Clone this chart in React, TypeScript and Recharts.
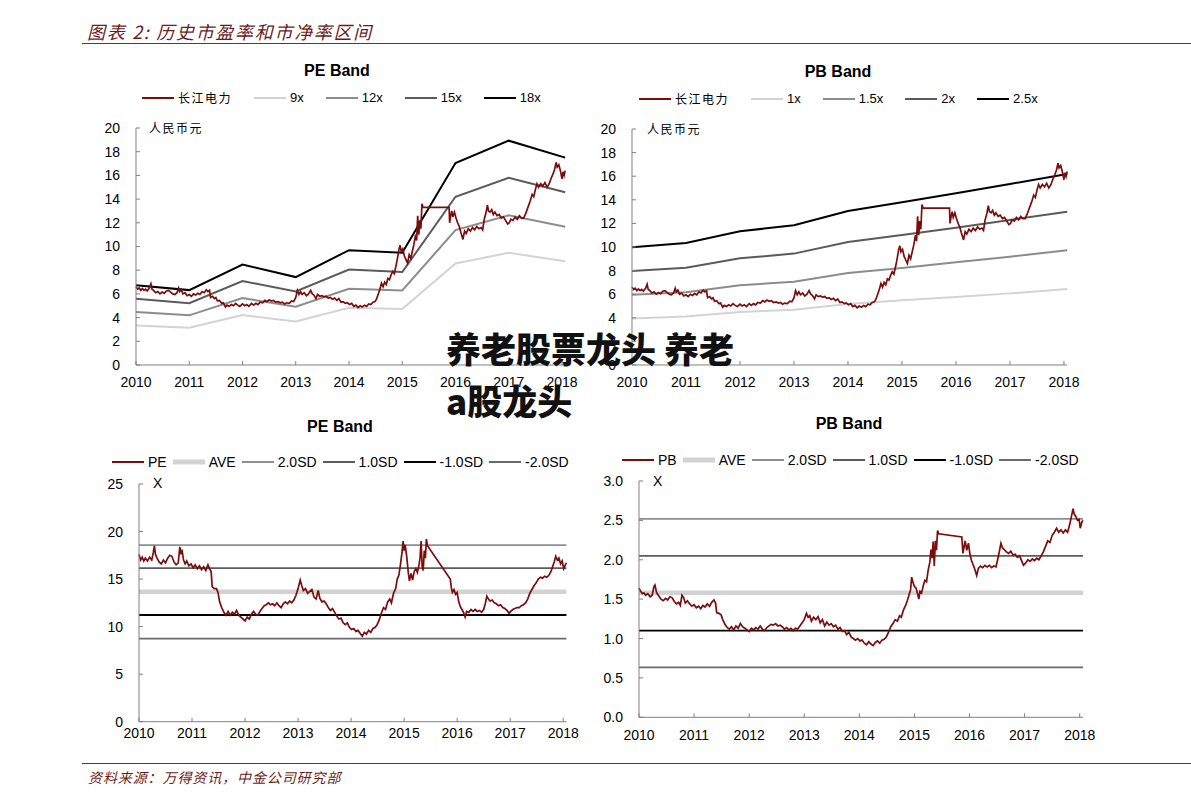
import React from "react";
import { LineChart, Line, XAxis, YAxis } from "recharts";

type Pt = [number, number];
type Row = { t: number; v: number };

const YEARS = [2010, 2011, 2012, 2013, 2014, 2015, 2016, 2017, 2018];
const X_END = 2018.06;
const BAND_T = [2010, 2011, 2012, 2013, 2014, 2015, 2016, 2017, X_END];

// PE band lines (price at 9x / 12x / 15x / 18x earnings), read at each year
const PE_9X = [3.34, 3.15, 4.21, 3.68, 4.83, 4.72, 8.57, 9.47, 8.76];
const PE_12X = [4.47, 4.19, 5.65, 4.92, 6.43, 6.29, 11.38, 12.64, 11.66];
const PE_15X = [5.59, 5.22, 7.08, 6.21, 8.06, 7.84, 14.2, 15.79, 14.58];
const PE_18X = [6.74, 6.32, 8.48, 7.42, 9.69, 9.47, 17.05, 18.93, 17.5];

// PB band lines
const PB_1X = [3.95, 4.1, 4.49, 4.69, 5.17, 5.48, 5.76, 6.07, 6.44];
const PB_15X = [5.96, 6.16, 6.75, 7.06, 7.8, 8.22, 8.7, 9.18, 9.72];
const PB_2X = [7.97, 8.25, 9.04, 9.44, 10.42, 11.02, 11.64, 12.29, 12.99];
const PB_25X = [9.97, 10.34, 11.33, 11.84, 13.05, 13.79, 14.55, 15.34, 16.19];

// horizontal levels in the ratio charts
const LEVEL_NAMES = ["AVE", "2.0SD", "1.0SD", "-1.0SD", "-2.0SD"];
const PE_LEVELS = [13.67, 18.57, 16.15, 11.22, 8.74];
const PB_LEVELS = [1.58, 2.52, 2.05, 1.1, 0.635];

// 长江电力 share price (人民币元)
const PRICE: Pt[] = [
  [2010.0, 6.6], [2010.03, 6.4], [2010.06, 6.5], [2010.09, 6.3], [2010.12, 6.45], [2010.15, 6.3],
  [2010.18, 6.4], [2010.21, 6.25], [2010.25, 6.5], [2010.28, 6.85], [2010.3, 6.4], [2010.33, 6.3],
  [2010.37, 6.1], [2010.41, 6.2], [2010.45, 6.0], [2010.49, 6.15], [2010.53, 6.05], [2010.57, 6.25],
  [2010.61, 6.3], [2010.65, 6.15], [2010.69, 6.0], [2010.73, 5.95], [2010.77, 6.1], [2010.8, 6.5],
  [2010.82, 6.2], [2010.85, 6.35], [2010.88, 6.0], [2010.92, 6.1], [2010.96, 5.85], [2011.0, 5.95],
  [2011.04, 5.8], [2011.08, 6.0], [2011.12, 5.9], [2011.16, 6.05], [2011.2, 5.95], [2011.24, 6.2],
  [2011.28, 6.1], [2011.32, 6.35], [2011.35, 6.2], [2011.38, 6.3], [2011.4, 5.7], [2011.44, 5.8],
  [2011.47, 5.6], [2011.5, 5.7], [2011.53, 5.4], [2011.57, 5.45], [2011.61, 5.2], [2011.64, 5.25],
  [2011.68, 4.9], [2011.71, 5.05], [2011.75, 4.95], [2011.79, 5.1], [2011.83, 5.0], [2011.87, 5.2],
  [2011.91, 5.05], [2011.95, 4.95], [2012.0, 5.15], [2012.04, 5.0], [2012.08, 5.1], [2012.12, 4.95],
  [2012.17, 5.2], [2012.21, 5.05], [2012.25, 5.2], [2012.29, 5.1], [2012.33, 5.3], [2012.38, 5.25],
  [2012.42, 5.45], [2012.46, 5.35], [2012.5, 5.5], [2012.54, 5.4], [2012.58, 5.45], [2012.62, 5.3],
  [2012.67, 5.35], [2012.71, 5.25], [2012.75, 5.3], [2012.79, 5.15], [2012.83, 5.25], [2012.88, 5.2],
  [2012.92, 5.4], [2012.96, 5.35], [2013.0, 5.7], [2013.03, 6.3], [2013.06, 5.95], [2013.09, 6.2],
  [2013.12, 5.95], [2013.16, 6.1], [2013.2, 5.85], [2013.24, 6.0], [2013.28, 6.3], [2013.31, 6.0],
  [2013.34, 5.9], [2013.38, 5.6], [2013.41, 5.95], [2013.45, 5.8], [2013.49, 5.85], [2013.53, 5.75],
  [2013.57, 5.8], [2013.61, 5.65], [2013.65, 5.7], [2013.69, 5.55], [2013.73, 5.65], [2013.77, 5.45],
  [2013.81, 5.6], [2013.85, 5.3], [2013.89, 5.35], [2013.93, 5.2], [2013.97, 5.25], [2014.01, 5.1],
  [2014.05, 5.2], [2014.09, 4.95], [2014.13, 5.05], [2014.17, 4.85], [2014.21, 5.0], [2014.25, 4.9],
  [2014.29, 5.05], [2014.33, 4.95], [2014.37, 5.15], [2014.41, 5.1], [2014.45, 5.3], [2014.49, 5.35],
  [2014.52, 5.6], [2014.55, 6.0], [2014.58, 6.4], [2014.61, 6.9], [2014.64, 6.6], [2014.67, 7.0],
  [2014.7, 6.8], [2014.73, 7.3], [2014.76, 7.2], [2014.79, 7.6], [2014.82, 7.9], [2014.85, 7.7],
  [2014.88, 8.3], [2014.91, 9.0], [2014.94, 9.8], [2014.96, 10.1], [2014.98, 9.6], [2015.01, 9.8],
  [2015.04, 9.2], [2015.07, 8.9], [2015.1, 8.6], [2015.13, 9.3], [2015.16, 9.0], [2015.19, 9.6],
  [2015.22, 10.2], [2015.25, 11.0], [2015.27, 10.5], [2015.29, 12.6], [2015.31, 11.0], [2015.33, 12.2],
  [2015.35, 11.5], [2015.37, 13.6], [2015.39, 13.3], [2015.88, 13.3], [2015.89, 12.0], [2015.91, 12.6],
  [2015.93, 13.0], [2015.95, 12.5], [2015.98, 12.9], [2016.01, 12.4], [2016.04, 12.0], [2016.07, 11.7],
  [2016.1, 11.2], [2016.14, 10.6], [2016.17, 11.3], [2016.2, 11.1], [2016.24, 11.5], [2016.28, 11.3],
  [2016.32, 11.6], [2016.36, 11.4], [2016.4, 11.7], [2016.44, 11.5], [2016.48, 11.6], [2016.51, 11.4],
  [2016.54, 12.3], [2016.57, 12.8], [2016.6, 13.5], [2016.62, 13.0], [2016.65, 12.9], [2016.68, 13.1],
  [2016.71, 12.7], [2016.74, 12.9], [2016.78, 12.6], [2016.82, 12.7], [2016.86, 12.4], [2016.9, 12.5],
  [2016.94, 12.2], [2016.98, 11.9], [2017.01, 12.0], [2017.04, 12.3], [2017.08, 12.2], [2017.12, 12.5],
  [2017.16, 12.3], [2017.2, 12.6], [2017.24, 12.4], [2017.28, 12.4], [2017.32, 12.8], [2017.36, 13.3],
  [2017.4, 13.8], [2017.44, 14.4], [2017.47, 14.2], [2017.5, 14.8], [2017.53, 15.3], [2017.56, 15.0],
  [2017.6, 15.3], [2017.64, 15.1], [2017.68, 15.4], [2017.72, 15.0], [2017.76, 15.3], [2017.8, 15.8],
  [2017.83, 16.1], [2017.86, 16.5], [2017.89, 17.1], [2017.91, 16.7], [2017.94, 16.9], [2017.97, 16.4],
  [2018.0, 15.7], [2018.02, 16.3], [2018.04, 16.0], [2018.06, 16.4],
];

// trailing PE (x)
const PE: Pt[] = [
  [2010.0, 17.6], [2010.03, 17.0], [2010.06, 17.3], [2010.09, 16.9], [2010.12, 17.2], [2010.16, 16.9],
  [2010.2, 17.3], [2010.24, 17.0], [2010.27, 17.8], [2010.29, 18.5], [2010.31, 17.6], [2010.34, 17.2],
  [2010.38, 16.8], [2010.42, 16.6], [2010.46, 17.0], [2010.5, 16.7], [2010.54, 17.2], [2010.58, 17.5],
  [2010.62, 17.4], [2010.66, 16.8], [2010.7, 16.5], [2010.74, 16.7], [2010.77, 18.4], [2010.79, 17.6],
  [2010.81, 18.1], [2010.84, 17.0], [2010.87, 16.6], [2010.9, 16.9], [2010.94, 16.4], [2010.98, 16.6],
  [2011.02, 16.2], [2011.06, 16.5], [2011.1, 16.1], [2011.14, 16.4], [2011.18, 16.0], [2011.22, 16.3],
  [2011.26, 15.9], [2011.3, 16.5], [2011.33, 16.1], [2011.36, 15.8], [2011.38, 14.2], [2011.42, 14.0],
  [2011.46, 14.0], [2011.49, 13.6], [2011.52, 12.6], [2011.56, 12.0], [2011.6, 11.5], [2011.64, 11.2],
  [2011.68, 11.6], [2011.72, 11.2], [2011.76, 11.5], [2011.8, 11.3], [2011.84, 11.7], [2011.88, 11.2],
  [2011.92, 11.0], [2011.96, 10.8], [2012.0, 10.6], [2012.04, 11.0], [2012.08, 10.8], [2012.12, 11.3],
  [2012.16, 11.6], [2012.2, 11.3], [2012.24, 11.2], [2012.28, 11.6], [2012.32, 11.9], [2012.36, 12.2],
  [2012.4, 12.3], [2012.44, 12.5], [2012.48, 12.3], [2012.52, 12.4], [2012.56, 12.2], [2012.6, 12.5],
  [2012.64, 12.2], [2012.68, 12.0], [2012.72, 12.4], [2012.76, 12.6], [2012.8, 12.4], [2012.84, 12.7],
  [2012.88, 12.5], [2012.92, 12.8], [2012.96, 13.3], [2013.0, 14.0], [2013.04, 14.9], [2013.07, 14.3],
  [2013.1, 13.8], [2013.14, 14.0], [2013.18, 13.5], [2013.22, 13.7], [2013.26, 13.9], [2013.3, 13.1],
  [2013.34, 12.9], [2013.38, 13.8], [2013.41, 13.0], [2013.45, 12.6], [2013.49, 12.7], [2013.53, 12.4],
  [2013.57, 12.0], [2013.61, 11.7], [2013.65, 11.9], [2013.69, 11.5], [2013.73, 11.1], [2013.77, 10.8],
  [2013.81, 10.9], [2013.85, 10.4], [2013.89, 10.2], [2013.93, 10.4], [2013.97, 9.9], [2014.01, 9.7],
  [2014.05, 9.8], [2014.09, 9.5], [2014.13, 9.6], [2014.17, 9.3], [2014.21, 9.0], [2014.25, 9.4],
  [2014.29, 9.2], [2014.33, 9.6], [2014.37, 9.4], [2014.41, 9.8], [2014.45, 9.9], [2014.49, 10.2],
  [2014.53, 10.7], [2014.57, 11.4], [2014.61, 12.0], [2014.65, 11.8], [2014.69, 12.6], [2014.73, 12.9],
  [2014.76, 12.5], [2014.8, 13.5], [2014.84, 14.0], [2014.87, 15.0], [2014.9, 15.4], [2014.93, 16.5],
  [2014.96, 17.8], [2014.98, 19.0], [2015.0, 18.0], [2015.02, 18.6], [2015.05, 17.3], [2015.08, 15.6],
  [2015.1, 14.8], [2015.13, 15.6], [2015.16, 14.9], [2015.19, 15.8], [2015.22, 16.1], [2015.25, 15.7],
  [2015.28, 16.5], [2015.3, 17.2], [2015.32, 19.0], [2015.34, 16.3], [2015.36, 15.9], [2015.38, 18.0],
  [2015.4, 17.2], [2015.42, 19.2], [2015.44, 18.5], [2015.87, 15.0], [2015.89, 14.1], [2015.91, 13.6],
  [2015.94, 13.9], [2015.97, 13.4], [2016.0, 13.6], [2016.03, 12.6], [2016.06, 12.1], [2016.09, 11.8],
  [2016.12, 11.5], [2016.15, 11.0], [2016.18, 11.6], [2016.22, 11.5], [2016.26, 11.8], [2016.3, 11.6],
  [2016.34, 11.8], [2016.38, 11.6], [2016.42, 11.7], [2016.46, 11.5], [2016.5, 11.8], [2016.53, 12.4],
  [2016.56, 13.2], [2016.59, 12.9], [2016.62, 12.7], [2016.66, 12.8], [2016.7, 12.5], [2016.74, 12.4],
  [2016.78, 12.2], [2016.82, 12.3], [2016.86, 12.0], [2016.9, 11.9], [2016.94, 11.7], [2016.98, 11.4],
  [2017.01, 11.6], [2017.05, 11.8], [2017.09, 11.9], [2017.13, 12.0], [2017.17, 12.0], [2017.21, 12.2],
  [2017.25, 12.3], [2017.29, 12.5], [2017.33, 12.9], [2017.37, 13.5], [2017.41, 13.9], [2017.45, 14.3],
  [2017.49, 14.6], [2017.53, 15.0], [2017.57, 15.2], [2017.61, 15.1], [2017.65, 15.3], [2017.69, 15.2],
  [2017.73, 15.4], [2017.77, 15.8], [2017.8, 16.3], [2017.83, 16.8], [2017.86, 17.4], [2017.89, 17.0],
  [2017.92, 17.2], [2017.95, 16.6], [2017.98, 16.9], [2018.01, 16.1], [2018.04, 16.5], [2018.06, 16.7],
];

// PB (x)
const PB: Pt[] = [
  [2010.0, 1.64], [2010.03, 1.6], [2010.06, 1.57], [2010.09, 1.58], [2010.12, 1.55], [2010.16, 1.57],
  [2010.2, 1.53], [2010.24, 1.55], [2010.27, 1.66], [2010.29, 1.68], [2010.32, 1.58], [2010.36, 1.54],
  [2010.4, 1.5], [2010.44, 1.48], [2010.48, 1.51], [2010.52, 1.49], [2010.56, 1.53], [2010.6, 1.52],
  [2010.64, 1.47], [2010.68, 1.44], [2010.72, 1.46], [2010.75, 1.42], [2010.78, 1.55], [2010.81, 1.52],
  [2010.84, 1.45], [2010.88, 1.48], [2010.92, 1.44], [2010.96, 1.41], [2011.0, 1.43], [2011.04, 1.39],
  [2011.08, 1.41], [2011.12, 1.38], [2011.16, 1.42], [2011.2, 1.4], [2011.24, 1.44], [2011.28, 1.41],
  [2011.32, 1.46], [2011.36, 1.49], [2011.39, 1.45], [2011.41, 1.33], [2011.45, 1.32], [2011.49, 1.3],
  [2011.52, 1.24], [2011.56, 1.18], [2011.6, 1.14], [2011.64, 1.12], [2011.68, 1.15], [2011.72, 1.11],
  [2011.76, 1.16], [2011.8, 1.13], [2011.84, 1.19], [2011.88, 1.15], [2011.92, 1.13], [2011.96, 1.11],
  [2012.0, 1.09], [2012.04, 1.13], [2012.08, 1.11], [2012.12, 1.14], [2012.16, 1.12], [2012.2, 1.16],
  [2012.24, 1.12], [2012.28, 1.1], [2012.32, 1.14], [2012.36, 1.16], [2012.4, 1.18], [2012.44, 1.17],
  [2012.48, 1.19], [2012.52, 1.16], [2012.56, 1.17], [2012.6, 1.15], [2012.64, 1.12], [2012.68, 1.14],
  [2012.72, 1.11], [2012.76, 1.13], [2012.8, 1.1], [2012.84, 1.13], [2012.88, 1.12], [2012.92, 1.16],
  [2012.96, 1.2], [2013.0, 1.24], [2013.04, 1.32], [2013.07, 1.27], [2013.1, 1.29], [2013.13, 1.22],
  [2013.17, 1.27], [2013.21, 1.24], [2013.25, 1.28], [2013.29, 1.2], [2013.33, 1.24], [2013.37, 1.16],
  [2013.41, 1.21], [2013.45, 1.17], [2013.49, 1.19], [2013.53, 1.15], [2013.57, 1.17], [2013.61, 1.12],
  [2013.65, 1.14], [2013.69, 1.09], [2013.73, 1.1], [2013.77, 1.05], [2013.81, 1.08], [2013.85, 1.02],
  [2013.89, 1.0], [2013.93, 0.98], [2013.97, 1.0], [2014.01, 0.97], [2014.05, 0.98], [2014.09, 0.94],
  [2014.13, 0.92], [2014.17, 0.96], [2014.21, 0.93], [2014.25, 0.91], [2014.29, 0.95], [2014.33, 0.97],
  [2014.37, 0.94], [2014.41, 0.98], [2014.45, 0.99], [2014.49, 1.02], [2014.53, 1.08], [2014.57, 1.15],
  [2014.61, 1.19], [2014.65, 1.24], [2014.69, 1.22], [2014.73, 1.29], [2014.76, 1.27], [2014.8, 1.36],
  [2014.84, 1.42], [2014.87, 1.48], [2014.9, 1.55], [2014.93, 1.62], [2014.95, 1.78], [2014.97, 1.72],
  [2015.0, 1.66], [2015.03, 1.64], [2015.06, 1.56], [2015.08, 1.5], [2015.1, 1.6], [2015.13, 1.58],
  [2015.16, 1.67], [2015.19, 1.74], [2015.22, 1.72], [2015.25, 1.87], [2015.28, 1.97], [2015.3, 2.13],
  [2015.32, 2.02], [2015.34, 2.23], [2015.36, 1.92], [2015.38, 2.24], [2015.4, 2.12], [2015.42, 2.37],
  [2015.44, 2.33], [2015.86, 2.29], [2015.88, 2.08], [2015.9, 2.16], [2015.92, 2.24], [2015.95, 2.12],
  [2015.98, 2.21], [2016.01, 2.06], [2016.04, 1.98], [2016.07, 1.93], [2016.1, 1.87], [2016.13, 1.8],
  [2016.16, 1.89], [2016.2, 1.92], [2016.24, 1.9], [2016.28, 1.93], [2016.32, 1.91], [2016.36, 1.93],
  [2016.4, 1.9], [2016.44, 1.92], [2016.48, 1.91], [2016.51, 2.0], [2016.54, 2.1], [2016.57, 2.21],
  [2016.6, 2.15], [2016.63, 2.13], [2016.67, 2.1], [2016.71, 2.08], [2016.75, 2.11], [2016.79, 2.06],
  [2016.83, 2.07], [2016.87, 2.03], [2016.91, 2.05], [2016.95, 1.98], [2016.98, 1.93], [2017.02, 1.96],
  [2017.06, 2.0], [2017.1, 1.98], [2017.14, 2.01], [2017.18, 1.99], [2017.22, 2.02], [2017.26, 2.0],
  [2017.3, 2.05], [2017.34, 2.1], [2017.38, 2.17], [2017.42, 2.24], [2017.46, 2.22], [2017.5, 2.31],
  [2017.54, 2.35], [2017.58, 2.4], [2017.62, 2.35], [2017.66, 2.38], [2017.7, 2.34], [2017.74, 2.38],
  [2017.78, 2.35], [2017.82, 2.45], [2017.85, 2.55], [2017.88, 2.65], [2017.9, 2.58], [2017.93, 2.55],
  [2017.96, 2.5], [2017.99, 2.51], [2018.01, 2.4], [2018.04, 2.48], [2018.06, 2.5],
];

const RED = "#7a0d0d";
const SANS = "'Liberation Sans', Arial, sans-serif";
const CJK = "'Noto Sans CJK SC', sans-serif";
const AXIS = "#808080";
const YW = 50;
const XH = 30;
const PAD = 10;
const PAD_R = 30;

const BAND_COLORS = ["#d3d3d3", "#8c8c8c", "#5a5a5a", "#000000"];
const LEVEL_COLORS = ["#d2d2d2", "#8e8e8e", "#5c5c5c", "#000000", "#6a6a6a"];
const LEVEL_WIDTHS = [4.5, 1.8, 1.8, 1.8, 1.8];

const fromPairs = (p: Pt[]): Row[] => p.map(([t, v]) => ({ t, v }));
const band = (v: number[]): Row[] => BAND_T.map((t, i) => ({ t, v: v[i] }));
const flat = (v: number): Row[] => [{ t: 2010, v }, { t: X_END, v }];

type Series = { name: string; color: string; width: number; legendWidth: number; data: Row[] };

type PanelProps = {
  title: string;
  titleAt: [number, number];
  legendAt: [number, number];
  legendFont: number;
  legendGap: number;
  unit: string;
  unitAt: [number, number];
  plot: [number, number, number, number]; // left, top, right, bottom
  yMax: number;
  yTicks: number[];
  yFmt?: (v: number) => string;
  xGap: number;
  legend: Series[];
  draw: Series[];
};

function Panel(p: PanelProps) {
  const [l, t, r, b] = p.plot;
  const w = r - l + YW + PAD_R;
  const h = b - t + PAD + XH;
  const tickStyle = { fill: "#000", fontSize: 14, fontFamily: SANS };
  return (
    <>
      <div
        style={{
          position: "absolute",
          left: p.titleAt[0],
          top: p.titleAt[1],
          transform: "translate(-50%, -50%)",
          font: `bold 16px ${SANS}`,
          whiteSpace: "nowrap",
        }}
      >
        {p.title}
      </div>
      <div
        style={{
          position: "absolute",
          left: p.legendAt[0],
          top: p.legendAt[1],
          transform: "translateY(-50%)",
          display: "flex",
          alignItems: "center",
          whiteSpace: "nowrap",
        }}
      >
        {p.legend.map((s) => {
          const cjk = /[\u4e00-\u9fff]/.test(s.name);
          return (
            <div key={s.name} style={{ display: "flex", alignItems: "center", marginRight: p.legendGap }}>
              <svg width={32} height={8} style={{ display: "block" }}>
                <line x1={0} x2={32} y1={4} y2={4} stroke={s.color} strokeWidth={s.legendWidth} />
              </svg>
              <span
                style={{
                  marginLeft: 4,
                  fontFamily: cjk ? CJK : SANS,
                  fontSize: cjk ? 12 : p.legendFont,
                  letterSpacing: cjk ? 1.5 : 0,
                  lineHeight: "16px",
                }}
              >
                {s.name}
              </span>
            </div>
          );
        })}
      </div>
      <div style={{ position: "absolute", left: l - YW, top: t - PAD }}>
        <LineChart width={w} height={h} margin={{ top: PAD, right: PAD_R, bottom: 0, left: 0 }}>
          <XAxis
            dataKey="t"
            type="number"
            domain={[2010, X_END]}
            ticks={YEARS}
            interval={0}
            height={XH}
            stroke={AXIS}
            tickSize={-4}
            tickMargin={4 + p.xGap}
            tick={tickStyle}
          />
          <YAxis
            type="number"
            domain={[0, p.yMax]}
            ticks={p.yTicks}
            interval={0}
            width={YW}
            stroke={AXIS}
            tickSize={-4}
            tickMargin={20}
            tick={tickStyle}
            tickFormatter={p.yFmt}
          />
          {p.draw.map((s) => (
            <Line
              key={s.name}
              data={s.data}
              dataKey="v"
              type="linear"
              stroke={s.color}
              strokeWidth={s.width}
              dot={false}
              activeDot={false}
              isAnimationActive={false}
            />
          ))}
        </LineChart>
      </div>
      <div
        style={{
          position: "absolute",
          left: p.unitAt[0],
          top: p.unitAt[1],
          transform: "translateY(-50%)",
          fontFamily: p.unit === "X" ? SANS : CJK,
          fontSize: p.unit === "X" ? 14 : 12,
          letterSpacing: p.unit === "X" ? 0 : 1.5,
          lineHeight: "16px",
          whiteSpace: "nowrap",
        }}
      >
        {p.unit}
      </div>
    </>
  );
}

export default function App() {
  const price: Series = { name: "长江电力", color: RED, width: 1.7, legendWidth: 2, data: fromPairs(PRICE) };

  const peBands: Series[] = [
    { name: "9x", color: BAND_COLORS[0], width: 2, legendWidth: 2, data: band(PE_9X) },
    { name: "12x", color: BAND_COLORS[1], width: 2, legendWidth: 2, data: band(PE_12X) },
    { name: "15x", color: BAND_COLORS[2], width: 2, legendWidth: 2, data: band(PE_15X) },
    { name: "18x", color: BAND_COLORS[3], width: 2, legendWidth: 2, data: band(PE_18X) },
  ];
  const pbBands: Series[] = [
    { name: "1x", color: BAND_COLORS[0], width: 2, legendWidth: 2, data: band(PB_1X) },
    { name: "1.5x", color: BAND_COLORS[1], width: 2, legendWidth: 2, data: band(PB_15X) },
    { name: "2x", color: BAND_COLORS[2], width: 2, legendWidth: 2, data: band(PB_2X) },
    { name: "2.5x", color: BAND_COLORS[3], width: 2, legendWidth: 2, data: band(PB_25X) },
  ];

  const levels = (vals: number[]): Series[] =>
    LEVEL_NAMES.map((name, i) => ({
      name,
      color: LEVEL_COLORS[i],
      width: LEVEL_WIDTHS[i],
      legendWidth: i === 0 ? 5 : 2,
      data: flat(vals[i]),
    }));
  const peLevels = levels(PE_LEVELS);
  const pbLevels = levels(PB_LEVELS);
  const peLine: Series = { name: "PE", color: RED, width: 1.7, legendWidth: 2, data: fromPairs(PE) };
  const pbLine: Series = { name: "PB", color: RED, width: 1.7, legendWidth: 2, data: fromPairs(PB) };

  return (
    <div
      style={{
        position: "absolute",
        left: 0,
        top: 0,
        width: 1191,
        height: 803,
        background: "#fff",
        overflow: "hidden",
        color: "#000",
      }}
    >
      <div
        style={{
          position: "absolute",
          left: 87,
          top: 31,
          transform: "translateY(-50%)",
          fontFamily: CJK,
          fontStyle: "italic",
          fontSize: 18,
          letterSpacing: 1.7,
          color: "#6b1d1d",
          whiteSpace: "nowrap",
        }}
      >
        图表 2: 历史市盈率和市净率区间
      </div>
      <div style={{ position: "absolute", left: 82, top: 42.5, width: 1109, height: 1.5, background: "#7b2b2b" }} />

      <Panel
        title="PE Band"
        titleAt={[337, 71]}
        legendAt={[142, 98]}
        legendFont={13}
        legendGap={22}
        unit="人民币元"
        unitAt={[149, 128]}
        plot={[136, 128, 565.2, 365]}
        yMax={20}
        yTicks={[0, 2, 4, 6, 8, 10, 12, 14, 16, 18, 20]}
        xGap={11.7}
        legend={[price, ...peBands]}
        draw={[...peBands, price]}
      />
      <Panel
        title="PB Band"
        titleAt={[838, 72]}
        legendAt={[639, 99]}
        legendFont={13}
        legendGap={22}
        unit="人民币元"
        unitAt={[647, 129]}
        plot={[632, 129, 1067.2, 365]}
        yMax={20}
        yTicks={[0, 2, 4, 6, 8, 10, 12, 14, 16, 18, 20]}
        xGap={12.3}
        legend={[price, ...pbBands]}
        draw={[...pbBands, price]}
      />
      <Panel
        title="PE Band"
        titleAt={[340, 427]}
        legendAt={[112, 462]}
        legendFont={14}
        legendGap={6}
        unit="X"
        unitAt={[153, 483]}
        plot={[139.3, 484, 566.7, 721.7]}
        yMax={25}
        yTicks={[0, 5, 10, 15, 20, 25]}
        xGap={6.6}
        legend={[peLine, ...peLevels]}
        draw={[...peLevels, peLine]}
      />
      <Panel
        title="PB Band"
        titleAt={[849, 424]}
        legendAt={[622, 460]}
        legendFont={14}
        legendGap={6}
        unit="X"
        unitAt={[653, 481]}
        plot={[639.3, 481, 1083.3, 717.3]}
        yMax={3}
        yTicks={[0, 0.5, 1, 1.5, 2, 2.5, 3]}
        yFmt={(v) => v.toFixed(1)}
        xGap={12.7}
        legend={[pbLine, ...pbLevels]}
        draw={[...pbLevels, pbLine]}
      />

      <div style={{ position: "absolute", left: 82, top: 762.5, width: 1109, height: 1.5, background: "#7b2b2b" }} />
      <div
        style={{
          position: "absolute",
          left: 88,
          top: 777,
          transform: "translateY(-50%)",
          fontFamily: CJK,
          fontStyle: "italic",
          fontSize: 14,
          letterSpacing: 0.9,
          color: "#6b1d1d",
          whiteSpace: "nowrap",
        }}
      >
        资料来源：万得资讯，中金公司研究部
      </div>

      <div
        style={{
          position: "absolute",
          left: 446,
          top: 322,
          fontFamily: CJK,
          fontWeight: 900,
          fontSize: 35,
          lineHeight: "52px",
          color: "#111",
          whiteSpace: "pre",
        }}
      >
        {"养老股票龙头 养老\na股龙头"}
      </div>
    </div>
  );
}
